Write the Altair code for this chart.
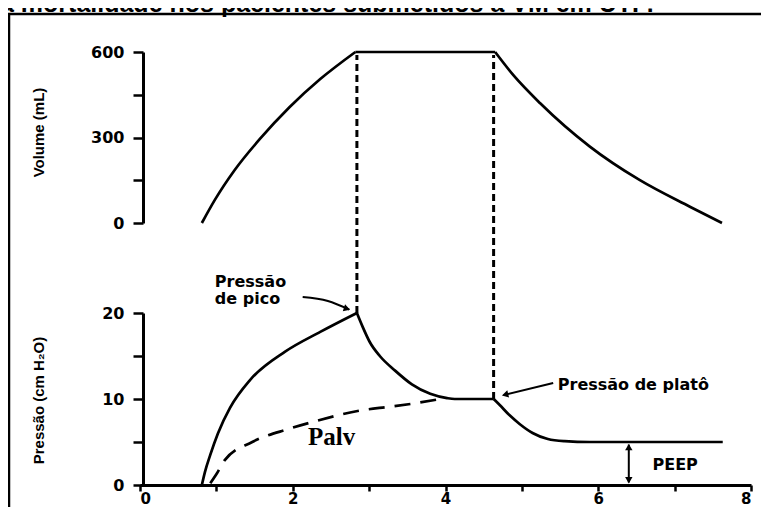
import altair as alt
import pandas as pd

# ---------------- data ----------------
# Volume (mL) vs time (s)
time_vol_rise = [0.81, 0.98, 1.24, 1.57, 1.96, 2.36, 2.82]
vol_rise = [0, 81, 186, 295, 407, 505, 600]
time_vol_hold = [2.82, 4.65]
vol_hold = [600, 600]
time_vol_fall = [4.65, 4.90, 5.24, 5.89, 6.54, 7.20, 7.62]
vol_fall = [600, 515, 420, 268, 151, 57, 0]

# Airway pressure (cm H2O) vs time (s)
time_p_rise = [0.81, 0.85, 0.92, 1.02, 1.18, 1.44, 1.90, 2.36, 2.84]
p_rise = [0, 1.5, 3.5, 6.0, 9.0, 12.2, 15.5, 17.8, 20.0]
time_p_fall = [2.84, 2.91, 3.01, 3.14, 3.34, 3.56, 3.80, 4.02, 4.12, 4.63]
p_fall = [20.0, 18.5, 16.6, 15.0, 13.3, 11.7, 10.6, 10.1, 10.0, 10.0]
time_p_exp = [4.63, 4.71, 4.84, 4.97, 5.14, 5.34, 5.56, 5.89, 7.63]
p_exp = [10.0, 9.3, 8.1, 7.1, 6.05, 5.35, 5.1, 5.0, 5.0]

# Alveolar pressure (dashed)
time_palv = [0.92, 1.01, 1.11, 1.47, 1.94, 2.29, 2.91, 3.27, 3.60, 3.93]
palv = [0.2, 1.4, 2.9, 5.0, 6.5, 7.4, 8.7, 9.1, 9.5, 10.0]

# vertical dashed markers (end of inspiration / end of pause)
marker_t = [2.84, 4.63]
marker_p = [20, 10]

# annotations
ann_text = ["Pressão\nde pico", "Pressão de platô", "PEEP"]
ann_t = [0.98, 5.47, 6.71]
ann_p = [24.5, 12.6, 3.3]
palv_label = ["Palv"]
palv_label_t = [2.2]
palv_label_p = [5.6]

arrow_id = ["pico", "pico", "pico", "plato", "plato", "peep", "peep"]
arrow_t = [2.13, 2.46, 2.74, 5.41, 4.76, 6.40, 6.40]
arrow_p = [21.86, 21.4, 20.4, 11.86, 10.45, 0.3, 4.7]

head_t = [2.71, 4.78, 6.40, 6.40]
head_p = [20.5, 10.5, 4.4, 0.55]
head_shape = ["triangle-right", "triangle-right", "triangle-up", "triangle-down"]
head_angle = [18, 166, 0, 0]

title_text = "a mortalidade nos pacientes submetidos à VM em UTI :"
x_ticks = [0, 1, 2, 3, 4, 5, 6, 7, 8]
vol_ticks = [0, 150, 300, 450, 600]
p_ticks = [0, 5, 10, 15, 20]

# ---------------- tables ----------------
def seg_df(ts, vs, seg, name):
    return pd.DataFrame({"t": ts, name: vs, "seg": seg})

vol_df = pd.concat([
    seg_df(time_vol_rise, vol_rise, "a", "v"),
    seg_df(time_vol_hold, vol_hold, "b", "v"),
    seg_df(time_vol_fall, vol_fall, "c", "v"),
])
p_df = pd.concat([
    seg_df(time_p_rise, p_rise, "a", "p"),
    seg_df(time_p_fall, p_fall, "b", "p"),
    seg_df(time_p_exp, p_exp, "c", "p"),
])
palv_df = pd.DataFrame({"t": time_palv, "p": palv})
mark_df = pd.DataFrame({"t": marker_t, "p": marker_p})
ann_df = pd.DataFrame({"t": ann_t, "p": ann_p, "txt": ann_text})
palv_lab_df = pd.DataFrame({"t": palv_label_t, "p": palv_label_p, "txt": palv_label})
arrow_df = pd.DataFrame({"t": arrow_t, "p": arrow_p, "id": arrow_id})
head_df = pd.DataFrame({"t": head_t, "p": head_p, "shape": head_shape, "ang": head_angle})
one = pd.DataFrame({"k": [0]})

# ---------------- layout ----------------
W, H = 611, 445
VOL_RANGE = [183, 12]
P_RANGE = [445, 273]

x_scale = alt.Scale(domain=[0, 8], nice=False, zero=False)
vol_scale = alt.Scale(domain=[0, 600], range=VOL_RANGE, nice=False, zero=False)
p_scale = alt.Scale(domain=[0, 20], range=P_RANGE, nice=False, zero=False)

x_axis = alt.Axis(values=x_ticks, title=None, tickSize=6, labelPadding=0, labelFontSize=15,
                  labelExpr="datum.value % 2 == 0 ? datum.label : ''")
title_style = dict(titleFont="Liberation Sans", titleFontWeight="bold", titleFontSize=15,
                   titleColor="black", titleAngle=270, titleAlign="center", titleBaseline="middle")
vol_axis = alt.Axis(orient="left", values=vol_ticks, tickSize=10, labelPadding=9, offset=-3,
                    labelExpr="datum.value % 300 == 0 ? datum.label : ''",
                    title="Volume (mL)", titleX=-105, titleY=92, **title_style)
p_axis = alt.Axis(orient="left", values=p_ticks, tickSize=10, labelPadding=9, offset=-3,
                  labelExpr="datum.value % 10 == 0 ? datum.label : ''",
                  title="Pressão (cm H₂O)", titleX=-105, titleY=360, **title_style)

X = alt.X("t:Q", scale=x_scale, axis=x_axis)
YV = alt.Y("v:Q", scale=vol_scale, axis=vol_axis)
YP = alt.Y("p:Q", scale=p_scale, axis=p_axis)

vol_line = alt.Chart(vol_df).mark_line(color="black", strokeWidth=2.7, interpolate="monotone").encode(
    x=X, y=YV, detail="seg:N")
vol_group = alt.layer(vol_line)

p_line = alt.Chart(p_df).mark_line(color="black", strokeWidth=2.7, interpolate="monotone").encode(
    x=X, y=YP, detail="seg:N")
palv_line = alt.Chart(palv_df).mark_line(color="black", strokeWidth=2.7, strokeDash=[16, 10],
                                         interpolate="monotone").encode(x=X, y=YP)
markers = alt.Chart(mark_df).mark_rule(color="black", strokeWidth=3, strokeDash=[7, 4]).encode(
    x=X, y=YP, y2=alt.value(VOL_RANGE[1] + 3))
arrows = alt.Chart(arrow_df).mark_line(color="black", strokeWidth=2, interpolate="monotone").encode(
    x=X, y=YP, detail="id:N")
heads = alt.Chart(head_df).mark_point(color="black", filled=True, opacity=1, size=55).encode(
    x=X, y=YP, shape=alt.Shape("shape:N", scale=None), angle=alt.Angle("ang:Q", scale=None))
ann = alt.Chart(ann_df).mark_text(align="left", baseline="top", font="DejaVu Sans", lineBreak="\n",
                                  lineHeight=17, fontWeight="bold", fontSize=16, color="black").encode(
    x=X, y=YP, text="txt:N")
palv_lab = alt.Chart(palv_lab_df).mark_text(align="left", baseline="middle", font="Liberation Serif",
                                            fontWeight="bold", fontSize=25, color="black").encode(
    x=X, y=YP, text="txt:N")

frame_v = alt.Chart(one).mark_rule(color="black", strokeWidth=2.5).encode(
    x=alt.value(-131), y=alt.value(-26), y2=alt.value(480))
frame_h = alt.Chart(one).mark_rule(color="black", strokeWidth=2.5).encode(
    x=alt.value(-132), x2=alt.value(630), y=alt.value(-26))
title = alt.Chart(one).mark_text(text=title_text, align="left", baseline="alphabetic",
                                 font="Liberation Sans", fontWeight="bold", fontSize=25,
                                 color="black").encode(x=alt.value(-140), y=alt.value(-28))

p_group = alt.layer(p_line, palv_line, markers, arrows, heads, ann, palv_lab,
                    frame_v, frame_h, title)

chart = alt.layer(vol_group, p_group).resolve_scale(y="independent").properties(
    width=W, height=H,
    padding={"left": 132, "top": 32, "right": 10, "bottom": 22},
    autosize=alt.AutoSizeParams(type="none"),
    background="white",
).configure_view(stroke=None).configure_axis(
    grid=False, domainColor="black", domainWidth=3, tickColor="black", tickWidth=2.5,
    labelFont="DejaVu Sans", labelFontWeight="bold", labelFontSize=16, labelColor="black",
)

chart.save("out.html", embed_options={"renderer": "svg", "actions": False})
